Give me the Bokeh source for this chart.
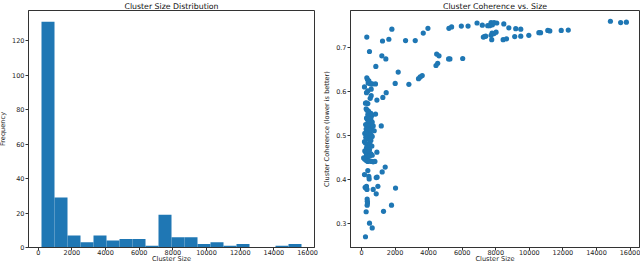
from bokeh.plotting import figure
from bokeh.layouts import row
from bokeh.models import FixedTicker, Range1d, ColumnDataSource
from bokeh.embed import file_html
from bokeh.resources import INLINE
import numpy as np

# ---- Histogram data (Cluster Size Distribution) ----
hist_min = 195
hist_max = 15640
n_bins = 20
hist_counts = [131, 29, 7, 3, 7, 4, 5, 5, 1, 19, 6, 6, 2, 3, 1, 2, 0, 0, 1, 2]

# ---- Scatter data (Cluster Coherence vs. Size) ----
size_upper = [318, 478, 856, 1214, 1254, 1453, 1632, 1811, 2189, 2010, 2627, 2826, 3204, 3682,
              3960, 3400, 3500, 3620, 4440, 4540, 4480, 4620, 5190, 5270, 6030, 5210, 5370, 5950,
              6350, 6885, 7200, 7520, 7640, 7720, 7800, 7900, 8060, 7260, 7330, 7400, 7720, 7780,
              7900, 8020, 7760, 8480, 8780, 8440, 8640, 9190, 9490, 9130, 9490, 9970, 10570, 10670,
              11100, 11220, 11900, 12320, 14830, 15440, 15780, 1474, 1274]
coh_upper = [0.725, 0.692, 0.658, 0.682, 0.716, 0.675, 0.720, 0.743, 0.645, 0.619, 0.717, 0.617,
             0.717, 0.734, 0.745, 0.630, 0.634, 0.637, 0.660, 0.665, 0.686, 0.682, 0.675, 0.675,
             0.676, 0.745, 0.748, 0.750, 0.750, 0.757, 0.752, 0.751, 0.751, 0.758, 0.753, 0.758,
             0.757, 0.725, 0.726, 0.727, 0.729, 0.734, 0.733, 0.736, 0.719, 0.755, 0.746, 0.719,
             0.721, 0.744, 0.743, 0.726, 0.727, 0.729, 0.735, 0.735, 0.740, 0.739, 0.740, 0.741,
             0.761, 0.758, 0.759, 0.598, 0.587]

size_small = [320, 360, 400, 440, 500, 560, 640, 836, 180, 580,
              380, 580, 300, 520, 240, 300, 380, 920,
              280, 330, 420, 480, 560, 840, 380, 450, 520, 620,
              300, 350, 420, 500, 560, 640, 400,
              250, 330, 380, 460, 540, 600, 700, 1180, 280, 420, 500, 760,
              200, 330, 400, 460, 560, 640, 260, 370, 480, 560,
              180, 240, 330, 420, 520, 620, 300, 400, 480,
              200, 260, 350, 450, 560, 920, 300, 400, 500, 640,
              130, 200, 290, 380, 480, 600, 700, 800]
coh_small = [0.632, 0.628, 0.620, 0.625, 0.619, 0.618, 0.618, 0.618, 0.611, 0.606,
             0.602, 0.591, 0.598, 0.585, 0.574, 0.575, 0.573, 0.581,
             0.561, 0.558, 0.556, 0.552, 0.551, 0.549, 0.548, 0.545, 0.543, 0.546,
             0.540, 0.537, 0.535, 0.533, 0.538, 0.531, 0.530,
             0.525, 0.523, 0.521, 0.519, 0.524, 0.516, 0.522, 0.522, 0.515, 0.513, 0.510, 0.511,
             0.505, 0.507, 0.503, 0.500, 0.502, 0.498, 0.496, 0.493, 0.491, 0.489,
             0.486, 0.483, 0.480, 0.481, 0.478, 0.476, 0.472, 0.470, 0.468,
             0.465, 0.462, 0.460, 0.463, 0.458, 0.462, 0.455, 0.452, 0.454, 0.455,
             0.449, 0.446, 0.443, 0.441, 0.442, 0.441, 0.440, 0.441]

size_lower = [1415, 1235, 380, 180, 460, 440, 880, 930, 220, 260, 300, 330, 700, 980, 880, 2030,
              340, 350, 360, 340, 1790, 280, 1315, 480, 640, 240]
coh_lower = [0.428, 0.417, 0.420, 0.411, 0.401, 0.407, 0.404, 0.405, 0.382, 0.380, 0.384, 0.377,
             0.377, 0.384, 0.367, 0.380, 0.355, 0.350, 0.346, 0.341, 0.341, 0.326, 0.327, 0.300,
             0.289, 0.269]

x_ticks = [0, 2000, 4000, 6000, 8000, 10000, 12000, 14000, 16000]
freq_ticks = [0, 20, 40, 60, 80, 100, 120]
coh_ticks = [0.3, 0.4, 0.5, 0.6, 0.7]

BLUE = "#1f77b4"
FONT = "DejaVu Sans"
TICK_FS = "6.5px"
LABEL_FS = "6.6px"
TITLE_FS = "7.8px"


def style(p, xticks, yticks):
    p.grid.visible = False
    p.outline_line_color = "#333333"
    p.outline_line_width = 1
    p.title.text_font = FONT
    p.title.text_font_size = TITLE_FS
    p.title.text_font_style = "normal"
    p.title.text_color = "#111111"
    p.title.align = "center"
    p.title.standoff = 0
    p.xaxis.ticker = FixedTicker(ticks=xticks)
    p.yaxis.ticker = FixedTicker(ticks=yticks)
    for ax in (p.xaxis[0], p.yaxis[0]):
        ax.axis_line_color = "#333333"
        ax.major_tick_line_color = "#333333"
        ax.major_tick_out = 3
        ax.major_tick_in = 0
        ax.minor_tick_line_color = None
        ax.major_label_text_font = FONT
        ax.major_label_text_font_size = TICK_FS
        ax.major_label_text_color = "#222222"
        ax.axis_label_text_font = FONT
        ax.axis_label_text_font_size = LABEL_FS
        ax.axis_label_text_font_style = "normal"
        ax.axis_label_text_color = "#222222"
    p.xaxis.major_label_standoff = -1
    p.xaxis.axis_label_standoff = -3
    p.yaxis.major_label_standoff = 1
    p.yaxis.axis_label_standoff = 2
    p.background_fill_color = "white"
    p.border_fill_color = "white"


# ---- Left: histogram ----
edges = np.linspace(hist_min, hist_max, n_bins + 1)
hist_src = ColumnDataSource(dict(left=edges[:-1], right=edges[1:], top=hist_counts,
                                 bottom=[0] * n_bins))
span = hist_max - hist_min
p1 = figure(width=324, height=269, output_backend="svg", toolbar_location=None,
            title="Cluster Size Distribution",
            x_range=Range1d(hist_min - 0.05 * span, hist_max + 0.05 * span),
            y_range=Range1d(0, max(hist_counts) * 1.05),
            min_border_left=30, min_border_right=6, min_border_top=14, min_border_bottom=18)
p1.quad(left="left", right="right", top="top", bottom="bottom", source=hist_src,
        fill_color=BLUE, line_color=None)
p1.xaxis.axis_label = "Cluster Size"
p1.yaxis.axis_label = "Frequency"
style(p1, x_ticks, freq_ticks)

# ---- Right: scatter ----
sizes = size_upper + size_small + size_lower
cohs = coh_upper + coh_small + coh_lower
sc_src = ColumnDataSource(dict(x=sizes, y=cohs))
xs_span = max(sizes) - min(sizes)
ys_span = max(cohs) - min(cohs)
p2 = figure(width=320, height=269, output_backend="svg", toolbar_location=None,
            title="Cluster Coherence vs. Size",
            x_range=Range1d(min(sizes) - 0.05 * xs_span, max(sizes) + 0.05 * xs_span),
            y_range=Range1d(min(cohs) - 0.05 * ys_span, max(cohs) + 0.05 * ys_span),
            min_border_left=29, min_border_right=1, min_border_top=14, min_border_bottom=18)
p2.scatter(x="x", y="y", source=sc_src, size=5.2, fill_color=BLUE, line_color=None)
p2.xaxis.axis_label = "Cluster Size"
p2.yaxis.axis_label = "Cluster Coherence (lower is better)"
style(p2, x_ticks, coh_ticks)

layout = row(p1, p2, styles={"position": "absolute", "left": "-4px", "top": "-4px"})

open("out.html", "w").write(file_html(layout, INLINE))
